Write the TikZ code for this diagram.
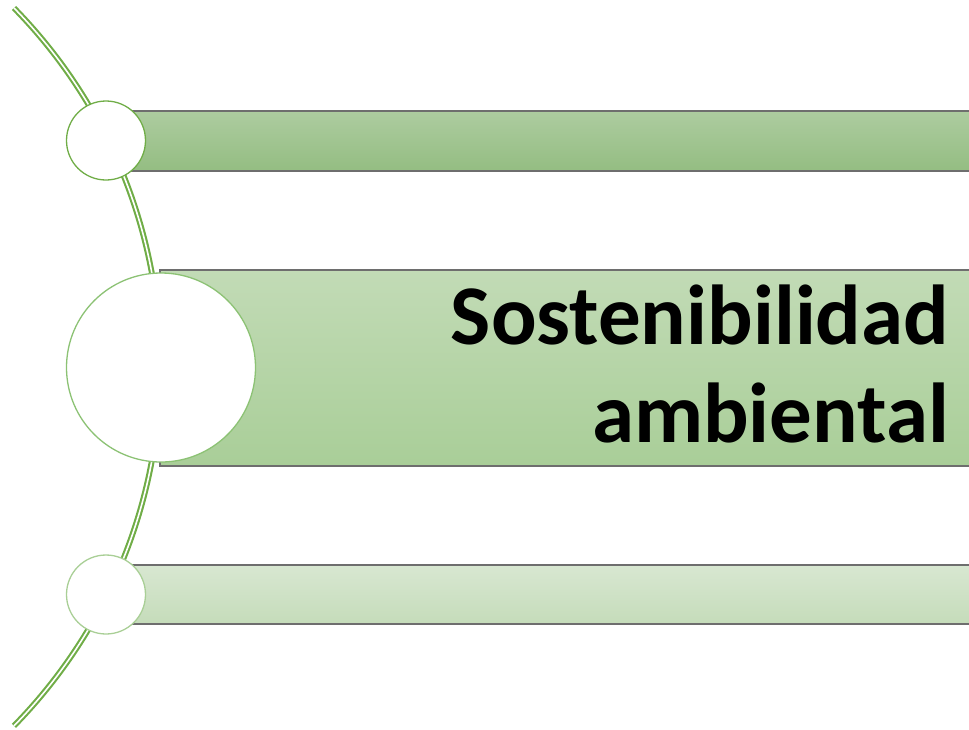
\documentclass[tikz,border=0pt]{standalone}
\usepackage{fontspec}
\setmainfont{Carlito}
\definecolor{arcgreen}{HTML}{70AD47}
\definecolor{ringA}{HTML}{70AD47}
\definecolor{ringB}{HTML}{8CC274}
\definecolor{ringC}{HTML}{A9CF96}
\definecolor{barAtop}{HTML}{ADCCA0}
\definecolor{barAbot}{HTML}{94BD82}
\definecolor{barBtop}{HTML}{C2DBB6}
\definecolor{barBbot}{HTML}{A9CE98}
\definecolor{barCtop}{HTML}{D8E7D1}
\definecolor{barCbot}{HTML}{C5DCBA}
\definecolor{edgegray}{HTML}{6E6E6E}
\tikzset{
  barbox/.style={draw=edgegray, line width=1.5pt},
  ring/.style={circle, fill=white, line width=1.3pt, inner sep=0pt},
  title/.style={font=\bfseries\fontsize{85}{98}\selectfont, inner sep=0pt, anchor=base east}
}
\begin{document}
\begin{tikzpicture}[x=1pt,y=-1pt]
\useasboundingbox (0,0) rectangle (969,729);
% arc
\draw[draw=arcgreen, double=white, line width=2.1pt, double distance=1.6pt]
  (14,8) arc[start angle=-44.4, end angle=44.4, radius=513];
% bars
\shade[barbox, top color=barAtop, bottom color=barAbot] (132,111) rectangle (980,171);
\shade[barbox, top color=barBtop, bottom color=barBbot] (160,270) rectangle (980,466);
\shade[barbox, top color=barCtop, bottom color=barCbot] (132,565) rectangle (980,624);
% circles
\node[ring, draw=ringA, minimum size=79pt] (c1) at (106,140.5) {};
\node[ring, draw=ringB, minimum size=189pt] (c2) at (161,367.5) {};
\node[ring, draw=ringC, minimum size=79pt] (c3) at (106,594.5) {};
% text
\node[title] (t1) at (949,344) {Sostenibilidad};
\node[title] (t2) at (949,442) {ambiental};
\end{tikzpicture}
\end{document}
